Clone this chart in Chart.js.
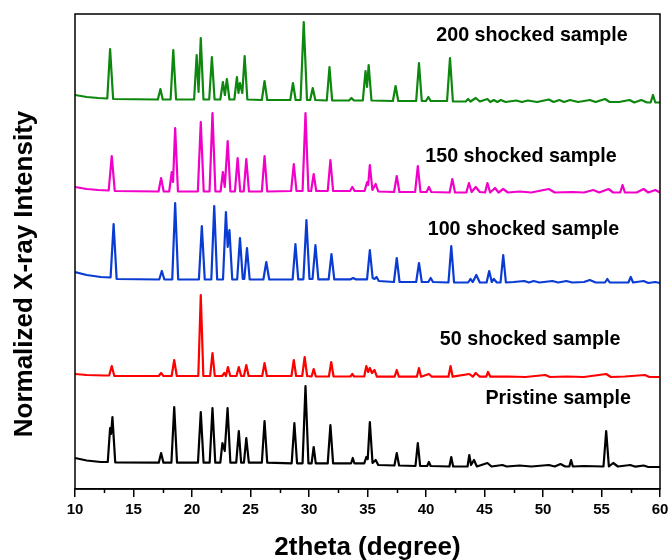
<!DOCTYPE html>
<html>
<head>
<meta charset="utf-8">
<script src="https://cdn.jsdelivr.net/npm/chart.js@4.4.1/dist/chart.umd.min.js"></script>
<style>
html,body{margin:0;padding:0;background:#fff;}
#wrap{width:669px;height:560px;position:relative;}
</style>
</head>
<body>
<div id="wrap"><canvas id="c" width="669" height="560"></canvas></div>
<script>
// ---- tick labels ----
const xMajorTicks = [10, 15, 20, 25, 30, 35, 40, 45, 50, 55, 60];
const xMinorTicks = [12.5, 17.5, 22.5, 27.5, 32.5, 37.5, 42.5, 47.5, 52.5, 57.5];

// ---- series names ----
const seriesNames = ["200 shocked sample", "150 shocked sample", "100 shocked sample", "50 shocked sample", "Pristine sample"];

// ---- series values: [2theta, stacked normalized intensity] ----
const shock200 = [[10,394],[11,392],[12,391],[12.76,390.5],[13.0,440],[13.26,390],[17.08,389.5],[17.3,400],[17.5,389.5],[18.17,389.5],[18.4,439],[18.64,389.5],[20.18,389.5],[20.4,434],[20.56,397],[20.75,451],[20.98,389.5],[21.47,389.5],[21.7,432],[21.93,389.5],[22.42,389.5],[22.64,407],[22.81,394],[22.98,410],[23.2,389.5],[23.62,389.5],[23.84,412],[23.97,396],[24.1,406],[24.3,396],[24.5,433],[24.73,389.5],[25.97,389],[26.2,408],[26.43,389],[28.4,389],[28.63,406],[28.86,389],[29.28,389],[29.55,467],[29.83,389],[30.1,389],[30.32,401],[30.54,389],[31.52,388.5],[31.75,422],[31.98,388.5],[33.42,388.5],[33.63,391],[33.84,388.5],[34.6,388.5],[34.83,418],[34.96,402],[35.1,424],[35.34,388.5],[37.17,388],[37.4,403],[37.63,388],[39.16,388],[39.4,426],[39.64,388],[40.0,388],[40.2,392],[40.4,388],[41.8,388],[42.05,431],[42.3,387.5],[43.4,387.5],[43.6,390],[43.8,387.5],[44.25,391],[44.6,387.5],[45.25,390],[45.5,387],[45.8,389],[46.1,387],[46.4,389],[46.8,387],[47.7,388.5],[48.2,387],[48.7,388.5],[49.5,387],[50.5,389.5],[50.9,387],[51.4,389],[51.8,387],[52.3,389],[53,387],[54.0,389],[54.5,387],[55.3,390],[55.7,387],[56.5,387],[57.4,389],[57.8,386.5],[58.4,389],[58.9,386.5],[59.2,386.5],[59.4,394],[59.6,386.5],[60,386.5]];

const shock150 = [[10,302],[11,300],[12,299],[12.88,298.5],[13.14,333],[13.4,298],[17.14,297.5],[17.36,311],[17.58,297.5],[18.05,297.5],[18.27,317],[18.38,307],[18.56,361],[18.8,297.5],[20.5,297.5],[20.75,367],[21.0,297.5],[21.5,297.5],[21.75,376],[22.0,297.5],[22.44,297.5],[22.64,317],[22.8,302],[23.05,348],[23.28,297.5],[23.67,297.5],[23.9,331],[24.12,297.5],[24.42,297.5],[24.64,330],[24.87,297.5],[25.97,297.5],[26.2,333],[26.43,297.5],[28.47,298],[28.7,325],[28.93,298],[29.45,298],[29.7,376],[29.95,298],[30.18,298],[30.4,315],[30.62,298],[31.6,298],[31.83,329],[32.06,298],[33.5,298],[33.7,302],[33.9,298],[34.75,298],[34.97,307],[35.06,304],[35.2,324],[35.42,299],[35.7,305],[35.92,297.5],[37.27,297],[37.5,313],[37.73,297],[39.07,297],[39.3,323],[39.53,297],[40.05,297],[40.25,302],[40.45,297],[42.02,296.5],[42.25,310],[42.48,296.5],[43.45,296.5],[43.67,306],[43.9,297],[44.25,302],[44.6,297],[45.05,296.5],[45.25,306],[45.48,296.5],[45.9,301],[46.2,296.5],[46.6,300],[47,296.5],[48,297.5],[49,296.5],[50.5,300],[51,296.5],[52.5,297],[53.5,296.5],[54.3,299],[54.8,296.5],[55.6,300],[56,296.5],[56.6,296.5],[56.8,304],[57.0,296.5],[58,296.5],[58.6,300],[59,296.5],[59.6,299],[60,296.5]];

const shock100 = [[10,217],[11,214],[12.2,212],[13.04,211.5],[13.3,265],[13.56,210],[17.2,209.5],[17.42,218],[17.64,209.5],[18.31,209.5],[18.56,286],[18.82,209.5],[20.59,209.5],[20.84,263],[21.09,209.5],[21.65,209.5],[21.9,283],[22.15,209.5],[22.65,209.5],[22.9,277],[23.05,242],[23.2,259],[23.44,209.5],[23.86,209.5],[24.1,251],[24.34,210],[24.47,210],[24.7,241],[24.93,209.5],[26.1,209.5],[26.35,227],[26.6,209.5],[28.6,209.7],[28.84,245],[29.08,209.7],[29.52,209.7],[29.78,269],[30.04,210],[30.3,210],[30.55,244],[30.8,209.7],[31.68,209.7],[31.92,235],[32.16,209.7],[33.56,209.7],[33.77,211],[33.98,209.7],[34.96,209.7],[35.2,239],[35.44,211],[35.6,210],[35.77,212],[35.97,208],[37.26,207],[37.5,231],[37.74,207],[39.16,207],[39.4,226],[39.64,207],[40.2,207],[40.4,211],[40.6,207],[41.92,206.5],[42.16,243],[42.4,206.5],[43.6,206.5],[43.8,210],[44.0,207],[44.3,214],[44.6,206.5],[45.18,206.5],[45.4,218],[45.62,207],[45.8,210],[46.05,206.5],[46.37,206.5],[46.6,234],[46.83,206.5],[47.5,207],[48.4,208],[48.8,206.5],[49.2,208],[49.7,206.5],[50.8,208],[51.3,206.5],[52,208],[52.5,206.5],[53.5,207],[54.0,209],[54.5,206.5],[55.3,206.5],[55.5,210],[55.7,206.5],[57.3,206.5],[57.5,212],[57.7,206.5],[58.6,208],[59,206],[59.6,207],[60,206]];

const shock50 = [[10,115],[11,114],[12.5,113.5],[12.92,113.5],[13.14,123],[13.36,113],[17.16,113],[17.36,116],[17.56,113],[18.26,113],[18.48,129],[18.7,113],[20.54,113],[20.75,194],[20.97,113],[21.55,113],[21.75,136],[21.95,113],[22.58,113],[22.76,116],[22.9,113],[23.07,122],[23.27,113],[23.8,113],[24.0,122],[24.2,113],[24.44,113],[24.64,124],[24.84,113],[26.0,113],[26.2,126],[26.4,113],[28.5,113],[28.7,129],[28.9,113],[29.42,113],[29.63,132],[29.84,113],[30.22,112.5],[30.4,120],[30.58,112.5],[31.7,112.5],[31.9,127],[32.1,112.5],[33.55,112.5],[33.7,115],[33.85,112.5],[34.72,112.5],[34.9,123],[35.05,117],[35.2,121],[35.38,116],[35.6,119],[35.8,112.3],[37.32,112.3],[37.5,119],[37.68,112.3],[39.22,112.3],[39.4,121],[39.58,112.3],[40.25,115],[40.5,112.3],[41.92,112.3],[42.1,123],[42.28,112.3],[43.7,115],[44.0,112.3],[44.25,116],[44.6,112.3],[45.15,112.3],[45.3,117],[45.5,112.3],[47,112.5],[48.5,112],[50.2,114],[50.6,112],[52,112.5],[53.5,112],[55.4,115],[55.8,112],[57,112.5],[58.7,114],[59.1,112],[60,112]];

const pristine = [[10,31],[11,28.5],[12.2,27],[12.8,27],[13.0,61],[13.08,55],[13.2,72],[13.44,26.5],[17.16,26.3],[17.36,36],[17.56,26.3],[18.24,26.3],[18.48,82],[18.72,26.3],[20.51,26.3],[20.75,77],[20.99,26.3],[21.51,26.3],[21.75,81],[21.99,26.3],[22.42,26.3],[22.6,46],[22.8,38],[23.04,81],[23.28,26.3],[23.78,26.3],[24.0,58],[24.2,26.3],[24.44,26.3],[24.64,51],[24.86,26.3],[25.97,26.3],[26.2,68],[26.43,26.3],[28.52,25.7],[28.75,66],[28.98,25.7],[29.45,25.7],[29.7,103],[29.95,25.7],[30.22,25.7],[30.4,42],[30.58,25.7],[31.6,25.7],[31.83,64],[32.06,25.7],[33.6,25.7],[33.74,31],[33.88,25.7],[34.72,25.7],[34.9,32],[35.02,30],[35.2,67],[35.43,26],[35.7,29],[35.92,24],[37.3,23.5],[37.5,36],[37.7,23.5],[39.1,23],[39.3,46],[39.5,23],[40.1,23],[40.25,27],[40.4,23],[42.0,22.5],[42.16,32],[42.32,22.5],[43.55,22.5],[43.7,34],[43.85,24],[44.1,29],[44.35,22.5],[45.25,26],[45.6,22.5],[46.53,24],[46.9,22.5],[48,23.5],[49,22.5],[50.5,24],[51,22.5],[51.5,25],[51.9,22.5],[52.25,22.5],[52.4,29],[52.55,22.5],[53.5,23],[55.17,22.5],[55.4,58],[55.63,22.5],[56.0,26],[56.4,22.5],[57.46,24],[57.9,22.3],[58.6,23.5],[59,22],[60,22]];

// ---- series label anchors (data units) ----
const labelAnchorX = [49.06, 48.12, 48.33, 48.9, 51.3];
const labelAnchorY = [453, 332, 259, 149, 90];

const seriesData = [shock200, shock150, shock100, shock50, pristine];
const seriesColors = ["#0e870e", "#f000c8", "#0a3cd4", "#ff0000", "#000000"];

const FONT = "Arial, 'Liberation Sans', Helvetica, sans-serif";

const decor = {
  id: 'decor',
  afterDraw(chart) {
    const ctx = chart.ctx;
    const a = chart.chartArea;
    const xs = chart.scales.x, ys = chart.scales.y;
    ctx.save();
    ctx.strokeStyle = '#000';
    ctx.lineWidth = 1.5;
    ctx.strokeRect(a.left, a.top, a.right - a.left, a.bottom - a.top);
    ctx.beginPath();
    xMinorTicks.forEach(v => {
      const px = Math.round(xs.getPixelForValue(v)) + 0.5;
      ctx.moveTo(px, a.bottom);
      ctx.lineTo(px, a.bottom + 4);
    });
    ctx.stroke();
    ctx.fillStyle = '#000';
    ctx.font = "bold 19.7px " + FONT;
    ctx.textAlign = 'center';
    ctx.textBaseline = 'middle';
    seriesNames.forEach((t, i) => {
      ctx.fillText(t, xs.getPixelForValue(labelAnchorX[i]), ys.getPixelForValue(labelAnchorY[i]));
    });
    ctx.font = "bold 26px " + FONT;
    ctx.fillText("2theta (degree)", (a.left + a.right) / 2, 548);
    ctx.save();
    ctx.translate(25, 274);
    ctx.rotate(-Math.PI / 2);
    ctx.fillText("Normalized X-ray Intensity", 0, 0);
    ctx.restore();
    ctx.restore();
  }
};

new Chart(document.getElementById('c'), {
  type: 'scatter',
  data: {
    datasets: seriesData.map((d, i) => ({
      label: seriesNames[i],
      data: d.map(p => ({x: p[0], y: p[1]})),
      showLine: true,
      borderColor: seriesColors[i],
      backgroundColor: seriesColors[i],
      borderWidth: 2.2,
      borderJoinStyle: 'round',
      pointRadius: 0,
      tension: 0,
      fill: false
    }))
  },
  options: {
    responsive: false,
    animation: false,
    layout: {padding: {left: 75, right: 9, top: 14, bottom: 0}},
    plugins: {legend: {display: false}, tooltip: {enabled: false}},
    scales: {
      x: {
        type: 'linear', min: 10, max: 60, position: 'bottom',
        afterBuildTicks: s => { s.ticks = xMajorTicks.map(v => ({value: v})); },
        afterFit: s => { s.height = 71; s.paddingLeft = 0; s.paddingRight = 0; },
        ticks: {
          color: '#000', padding: 4, maxRotation: 0, autoSkip: false,
          font: {family: FONT, size: 15, weight: 'bold'}
        },
        grid: {display: true, drawOnChartArea: false, drawTicks: true, tickLength: 8, color: '#000', lineWidth: 1.5},
        border: {display: true, color: '#000', width: 1.5},
        title: {display: false}
      },
      y: {
        type: 'linear', min: 0, max: 475, display: false
      }
    }
  },
  plugins: [decor]
});
</script>
</body>
</html>
